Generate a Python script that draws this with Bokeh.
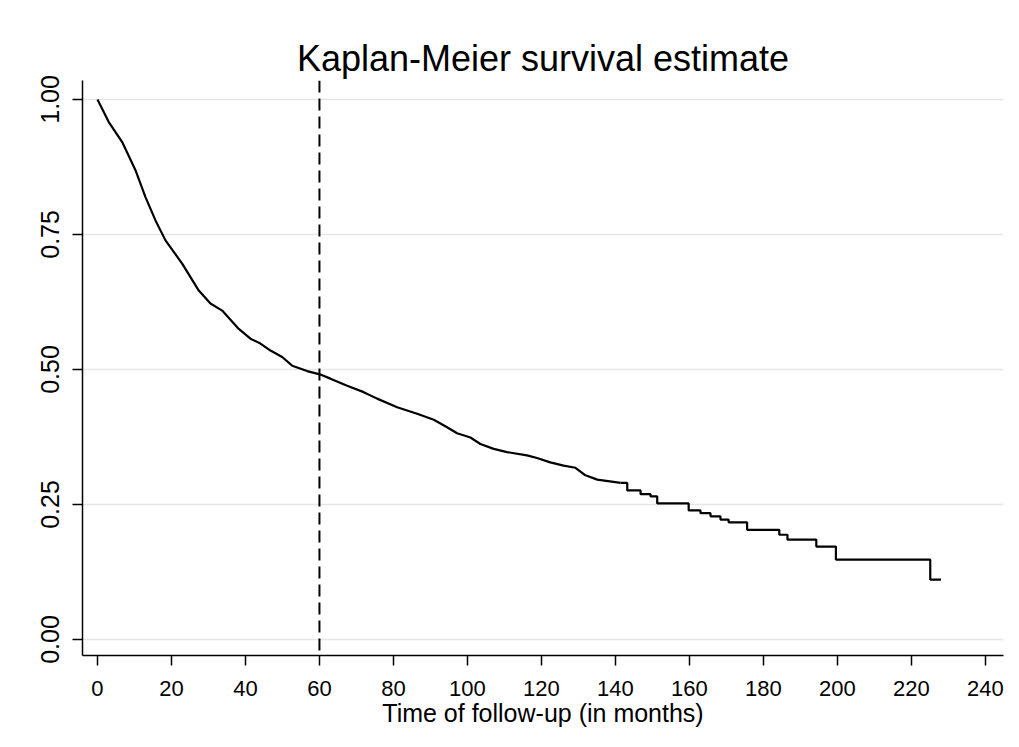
from bokeh.plotting import figure
from bokeh.models import FixedTicker, NumeralTickFormatter, Span, Range1d
from bokeh.embed import file_html
from bokeh.resources import INLINE

# Kaplan-Meier estimate (months, survival)
km_time = [0.0, 3.05, 6.68, 10.27, 12.97, 15.68, 18.38, 22.89, 27.38, 30.54,
           33.70, 38.19, 41.35, 44.05, 46.76, 49.92, 52.62, 56.68, 60.08, 62.97,
           67.49, 71.97, 75.59, 81.0, 86.4, 90.9, 94.5, 97.2, 100.8, 103.5,
           107.1, 110.7, 116.1, 118.8, 122.4, 126.0, 129.2, 131.9, 135.1, 141.4,
           143.2, 146.8, 149.5, 151.3, 159.8, 163.0, 165.7, 168.4, 170.6, 175.6,
           184.3, 186.5, 194.3, 199.6, 225.1, 228.0]
km_surv = [1.000, 0.958, 0.921, 0.869, 0.819, 0.776, 0.739, 0.696, 0.646, 0.622,
           0.609, 0.575, 0.557, 0.548, 0.535, 0.523, 0.507, 0.497, 0.491, 0.483,
           0.470, 0.458, 0.446, 0.430, 0.418, 0.407, 0.393, 0.382, 0.374, 0.362,
           0.353, 0.347, 0.341, 0.336, 0.328, 0.322, 0.318, 0.304, 0.296, 0.290,
           0.276, 0.269, 0.265, 0.252, 0.239, 0.234, 0.228, 0.222, 0.217, 0.203,
           0.194, 0.185, 0.172, 0.148, 0.111, 0.111]
dense_until = 40  # first points are so dense the steps look like a smooth curve

x_ticks = [0, 20, 40, 60, 80, 100, 120, 140, 160, 180, 200, 220, 240]
y_ticks = [0.0, 0.25, 0.5, 0.75, 1.0]
ref_time = 60

FONT = "Liberation Sans"

p = figure(width=1011, height=739, output_backend="svg", toolbar_location=None,
           title="Kaplan-Meier survival estimate",
           x_range=Range1d(-4.05, 244.9), y_range=Range1d(-0.0296, 1.035),
           min_border_left=82, min_border_right=8, min_border_top=80, min_border_bottom=84)

p.title.align = "center"
p.title.text_font = FONT
p.title.text_font_size = "36px"
p.title.text_font_style = "normal"
p.title.text_color = "black"
p.title.standoff = 3

p.outline_line_color = None
p.background_fill_color = "white"
p.border_fill_color = "white"

p.xgrid.grid_line_color = None
p.ygrid.grid_line_color = "#e6e6e6"
p.ygrid.grid_line_width = 1.5
p.ygrid.ticker = FixedTicker(ticks=y_ticks)

p.xaxis.ticker = FixedTicker(ticks=x_ticks)
p.yaxis.ticker = FixedTicker(ticks=y_ticks)
p.yaxis.formatter = NumeralTickFormatter(format="0.00")
p.xaxis.axis_label = "Time of follow-up (in months)"

for ax in (p.xaxis, p.yaxis):
    ax.axis_line_color = "black"
    ax.axis_line_width = 1.5
    ax.major_tick_line_color = "black"
    ax.major_tick_line_width = 1.5
    ax.major_tick_out = 10
    ax.major_tick_in = 0
    ax.minor_tick_line_color = None
    ax.major_label_text_font = FONT
    ax.major_label_text_font_size = "22px"
    ax.major_label_text_color = "black"
    ax.axis_label_text_font = FONT
    ax.axis_label_text_font_size = "25px"
    ax.axis_label_text_font_style = "normal"
    ax.axis_label_text_color = "black"

p.yaxis.major_label_text_font_size = "25px"
p.yaxis.major_label_orientation = "parallel"
p.yaxis.major_label_standoff = 13
p.xaxis.major_label_standoff = 15
p.xaxis.axis_label_standoff = 0

p.add_layout(Span(location=ref_time, dimension="height", line_color="black",
                  line_width=2, line_dash="12 6"))

p.line(km_time[:dense_until], km_surv[:dense_until], line_color="black", line_width=2.2)
p.step(km_time[dense_until - 1:], km_surv[dense_until - 1:], mode="after",
       line_color="black", line_width=2.2)

open("out.html", "w").write(file_html(p, INLINE))
